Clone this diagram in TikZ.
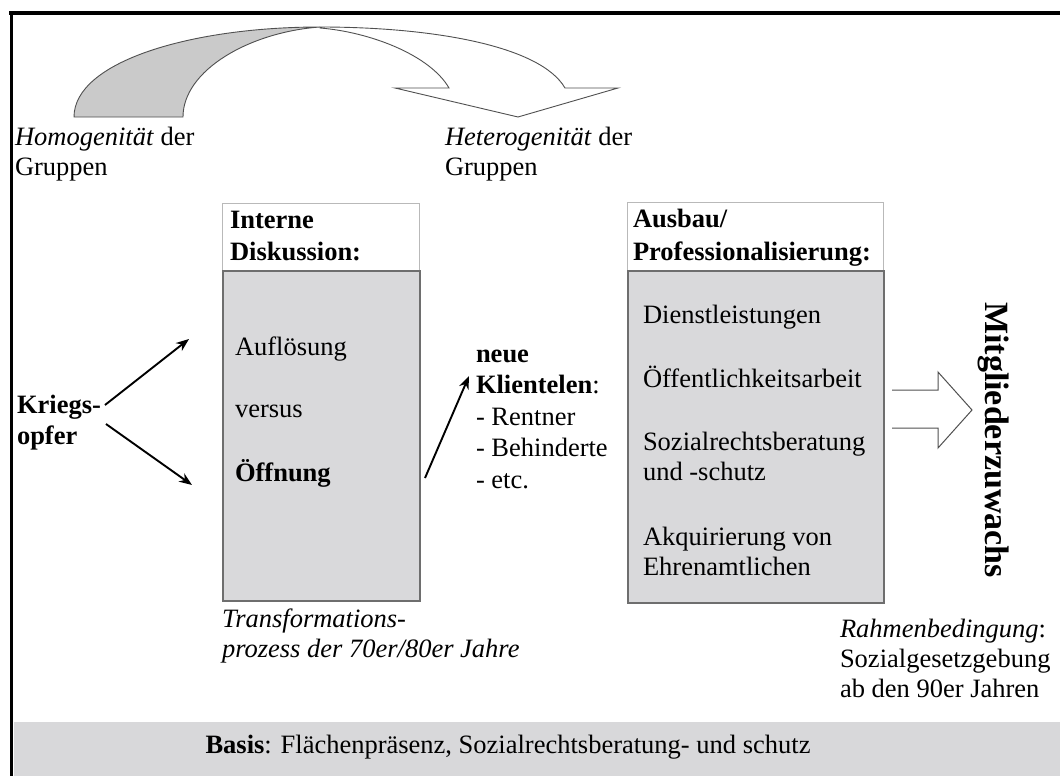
\documentclass[tikz,border=0pt]{standalone}
\usepackage{fontspec}
\setmainfont{Liberation Serif}
\usetikzlibrary{arrows.meta}
\definecolor{boxgray}{RGB}{217,217,219}
\definecolor{bandgray}{RGB}{216,216,218}
\definecolor{arcgray}{RGB}{202,202,202}
\definecolor{hdrline}{RGB}{185,185,185}
\definecolor{boxline}{RGB}{110,110,110}
\definecolor{outl}{RGB}{80,80,80}
\begin{document}
\begin{tikzpicture}[x=1pt,y=-1pt,
  txt/.style={inner sep=0pt, outer sep=0pt, anchor=base west, align=left, font=\fontsize{26.5}{30}\selectfont},
  hdr/.style={draw=hdrline, fill=white, line width=1pt, inner sep=0pt, anchor=north west},
  grbox/.style={draw=boxline, fill=boxgray, line width=1.5pt, inner sep=0pt, anchor=north west},
  conn/.style={line width=1.9pt, -{Stealth[length=13pt,width=10pt]}},
  bigarrow/.style={draw=outl, fill=white, line width=1pt, line join=miter},
  curvearrow/.style={draw=outl, line width=0.9pt},
]
\useasboundingbox (0,0) rectangle (1060,776);
\fill[white] (0,0) rectangle (1060,776);
% bottom band
\fill[bandgray] (14,722) rectangle (1060,776);
% frame
\draw[line width=4pt] (9,13.5) -- (1060,13.5);
\draw[line width=3.5pt] (11.5,11.5) -- (11.5,776);

% curved arrow (gray back part, white front part)
\path[curvearrow, fill=arcgray] (74,117) .. controls (74,62) and (190,27) .. (320,27)
   .. controls (250,32) and (183,70) .. (183,117) -- cycle;
\path[curvearrow, fill=white, line join=miter] (320,27) .. controls (430,27) and (540,45) .. (565,88)
   -- (618,88) -- (518,117) -- (395,88) -- (449,88)
   .. controls (430,55) and (370,32) .. (320,28) -- cycle;

% (multi-line nodes: base anchor = baseline of the last line)
\node[txt] (homo) at (15,175) {\textit{Homogenität} der\\Gruppen};
\node[txt] (hetero) at (445,175) {\textit{Heterogenität} der\\Gruppen};

% left boxes
\node[hdr, minimum width=197pt, minimum height=67pt] (hdrL) at (222,203) {};
\node[grbox, minimum width=197pt, minimum height=330pt] (boxL) at (222,270) {};
\node[txt, font=\fontsize{26.5}{32}\selectfont\bfseries] (hdrLt) at (230,260) {Interne\\Diskussion:};
\node[txt] (aufl) at (235,355) {Auflösung};
\node[txt] (versus) at (235,417) {versus};
\node[txt, font=\fontsize{26.5}{30}\selectfont\bfseries] (oeff) at (235,481) {Öffnung};
\node[txt, font=\fontsize{26.5}{30}\selectfont\itshape] (trans) at (222,657) {Transformations-\\prozess der 70er/80er Jahre};

% right boxes
\node[hdr, minimum width=256pt, minimum height=68pt] (hdrR) at (627,202) {};
\node[grbox, minimum width=256pt, minimum height=332pt] (boxR) at (627,270) {};
\node[txt, font=\fontsize{26.5}{33}\selectfont\bfseries] (hdrRt) at (633,260) {Ausbau/\\Professionalisierung:};
\node[txt] (dienst) at (643,323) {Dienstleistungen};
\node[txt] (oeffarb) at (643,387) {Öffentlichkeitsarbeit};
\node[txt] (sozr) at (643,480) {Sozialrechtsberatung\\und -schutz};
\node[txt] (akq) at (643,575) {Akquirierung von\\Ehrenamtlichen};

% Kriegsopfer and arrows
\node[txt, font=\fontsize{26.5}{31}\selectfont\bfseries] (krieg) at (17,444) {Kriegs-\\opfer};
\coordinate (kA) at (105,405);
\coordinate (kB) at (106,424);
\coordinate (tA) at (189,339);
\coordinate (tB) at (192,485);
\draw[conn] (kA) -- (tA);
\draw[conn] (kB) -- (tB);

% neue Klientelen
\node[txt, font=\fontsize{26.5}{31.5}\selectfont] (klient) at (476,488) {\textbf{neue}\\\textbf{Klientelen}:\\- Rentner\\- Behinderte\\- etc.};
\coordinate (oA) at (425,478);
\coordinate (oB) at (469,376);
\draw[conn] (oA) -- (oB);

% block arrow to Mitgliederzuwachs
\path[bigarrow] (892,390) -- (938,390) -- (938,372) -- (972,410) -- (938,448) -- (938,428) -- (892,428);
\node[rotate=-90, inner sep=0pt, font=\fontsize{34}{40}\selectfont\bfseries] (mz) at (994,440) {Mitgliederzuwachs};

% Rahmenbedingung
\node[txt] (rahmen) at (840,697) {\textit{Rahmenbedingung}:\\Sozialgesetzgebung\\ab den 90er Jahren};

% Basis
\node[txt, anchor=base] (basis) at (508,753) {\textbf{Basis}: Flächenpräsenz, Sozialrechtsberatung- und schutz};
\end{tikzpicture}
\end{document}
